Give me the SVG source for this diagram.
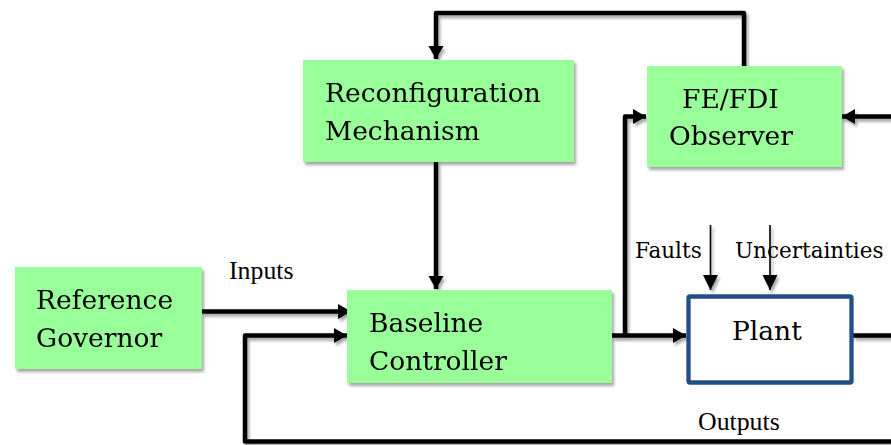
<svg xmlns="http://www.w3.org/2000/svg" width="891" height="445" viewBox="0 0 891 445">
  <style>
    .box { fill: #99ff99; stroke: none; }
    .lbl { font-family: "DejaVu Serif", "Liberation Serif", serif; font-size: 26.5px; fill: #000; }
    .small { font-family: "DejaVu Serif", "Liberation Serif", serif; font-size: 21.5px; fill: #000; }
    .sig { font-family: "Liberation Serif", "Times New Roman", serif; font-size: 25.8px; fill: #000; }
    .wire { fill: none; stroke: #000; stroke-width: 4.5; stroke-linejoin: round; }
    .thin { fill: none; stroke: #000; stroke-width: 1.6; }
  </style>
  <defs>
    <filter id="shadow" x="-10%" y="-10%" width="130%" height="140%">
      <feGaussianBlur in="SourceAlpha" stdDeviation="1.6"/>
      <feOffset dx="2" dy="3" result="b"/>
      <feComponentTransfer><feFuncA type="linear" slope="0.35"/></feComponentTransfer>
      <feMerge><feMergeNode/><feMergeNode in="SourceGraphic"/></feMerge>
    </filter>
    <marker id="head" markerUnits="userSpaceOnUse" markerWidth="16" markerHeight="16" refX="13" refY="7.5" orient="auto">
      <path d="M0,0 L13,7.5 L0,15 z" fill="#000"/>
    </marker>
    <marker id="headThin" markerUnits="userSpaceOnUse" markerWidth="16" markerHeight="16" refX="15" refY="7.5" orient="auto">
      <path d="M0,0 L15,7.5 L0,15 z" fill="#000"/>
    </marker>
  </defs>

  <rect width="891" height="445" fill="#fff"/>

  <!-- connectors -->
  <g id="connectors" filter="url(#shadow)">
    <!-- observer output back to reconfiguration -->
    <path class="wire" d="M744,66 V13 H436 V59" marker-end="url(#head)"/>
    <!-- reconfiguration to baseline controller -->
    <path class="wire" d="M436,162 V289" marker-end="url(#head)"/>
    <!-- reference governor inputs -->
    <path class="wire" d="M202,311.5 H351" marker-end="url(#head)"/>
    <!-- output feedback loop -->
    <path class="wire" d="M891,441.5 H245 V335.5 H347" marker-end="url(#head)"/>
    <!-- controller to plant -->
    <path class="wire" d="M612,335.5 H686" marker-end="url(#head)"/>
    <!-- control signal to observer -->
    <path class="wire" d="M625,335.5 V116.5 H646" marker-end="url(#head)"/>
    <!-- plant output to right edge -->
    <path class="wire" d="M853,335.5 H891"/>
    <!-- measured output into observer -->
    <path class="wire" d="M891,116.5 H842" marker-end="url(#head)"/>
    <!-- disturbance inputs -->
    <path class="thin" d="M710.5,225 V290" marker-end="url(#headThin)"/>
    <path class="thin" d="M770,225 V290" marker-end="url(#headThin)"/>
  </g>

  <g id="reconfiguration" filter="url(#shadow)">
    <rect class="box" x="303" y="60" width="271" height="102"/>
    <text class="lbl" x="325" y="102">Reconfiguration</text>
    <text class="lbl" x="325" y="140">Mechanism</text>
  </g>

  <g id="observer" filter="url(#shadow)">
    <rect class="box" x="647" y="66" width="195" height="101"/>
    <text class="lbl" x="682" y="108">FE/FDI</text>
    <text class="lbl" x="669" y="145">Observer</text>
  </g>

  <g id="reference-governor" filter="url(#shadow)">
    <rect class="box" x="15" y="267" width="187" height="102"/>
    <text class="lbl" x="36" y="309">Reference</text>
    <text class="lbl" x="36" y="347">Governor</text>
  </g>

  <g id="baseline-controller" filter="url(#shadow)">
    <rect class="box" x="347" y="290" width="265" height="93"/>
    <text class="lbl" x="369" y="332">Baseline</text>
    <text class="lbl" x="369" y="370">Controller</text>
  </g>

  <g id="plant">
    <rect x="688.5" y="296.5" width="163" height="86" fill="#fff" stroke="#234e84" stroke-width="4.3" rx="1.5"/>
    <text class="lbl" x="732" y="340">Plant</text>
  </g>

  <!-- signal labels -->
  <g id="labels">
    <text class="sig" x="229" y="279">Inputs</text>
    <text class="small" x="635" y="258">Faults</text>
    <text class="small" x="735" y="258">Uncertainties</text>
    <text class="sig" x="698" y="430">Outputs</text>
  </g>
</svg>
